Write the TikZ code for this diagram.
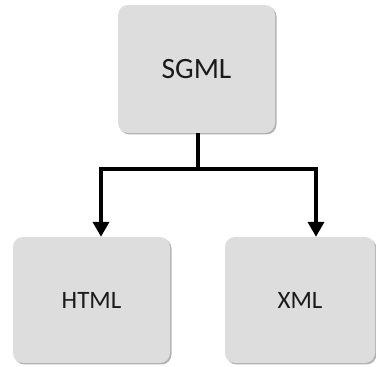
\documentclass[tikz,border=0pt]{standalone}
\usepackage{fontspec}
\setmainfont{Carlito}
\usepackage{tikz}
\usetikzlibrary{arrows.meta,shadows}
\definecolor{boxgray}{HTML}{DDDDDD}
\definecolor{textgray}{HTML}{1A1A1A}

\begin{document}
\begin{tikzpicture}[x=1pt,y=1pt,
  box/.style={fill=boxgray, rounded corners=10pt, text=textgray,
    drop shadow={shadow xshift=1.5pt, shadow yshift=-1.5pt, fill=gray, opacity=0.6}},
  link/.style={line width=4.5pt, line join=miter, -{Triangle[length=15pt,width=16pt]}}]
\useasboundingbox (0,0) rectangle (376,367);

\node[box, minimum width=157pt, minimum height=128pt, font=\fontsize{29.5}{32}\selectfont]
  (sgml) at (196.5,298) {SGML};
\node[box, minimum width=157pt, minimum height=126pt, font=\fontsize{25}{28}\selectfont]
  (html) at (91.5,67) {HTML};
\node[box, minimum width=150pt, minimum height=126pt, font=\fontsize{25}{28}\selectfont]
  (xml) at (300,67) {XML};

\coordinate (split) at ([xshift=1.5pt,yshift=-36pt]sgml.south);
\draw[line width=4.5pt] ([xshift=1.5pt]sgml.south) -- (split);
\draw[link] (split) -| ([xshift=9.5pt]html.north);
\draw[link] (split) -| ([xshift=16pt]xml.north);

\end{tikzpicture}
\end{document}
